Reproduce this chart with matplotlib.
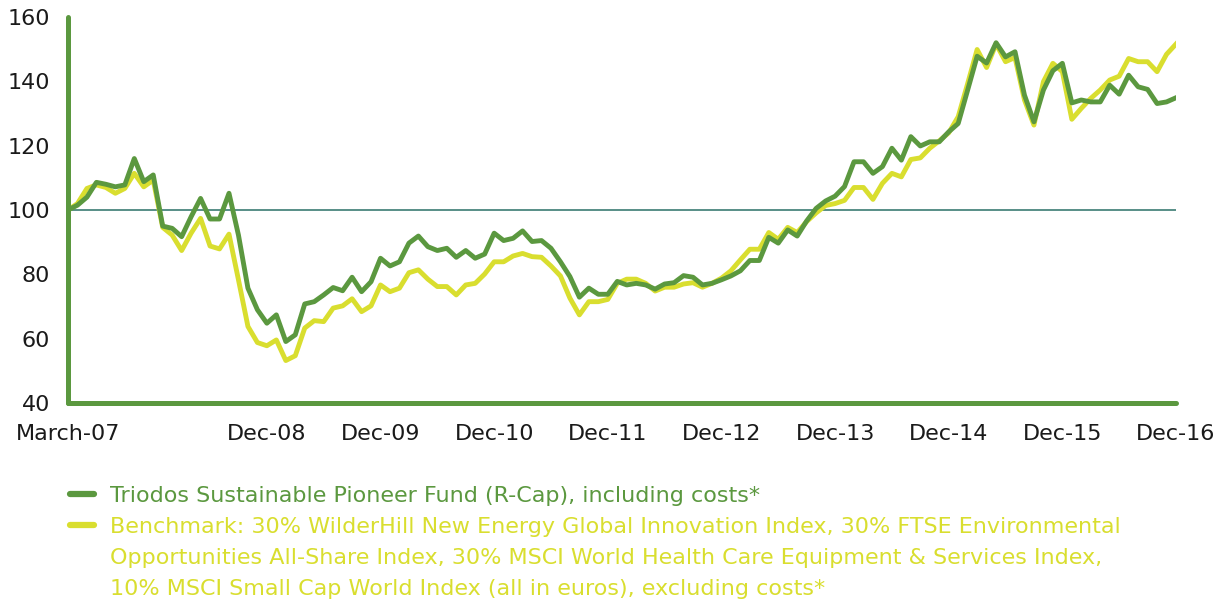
import matplotlib
matplotlib.use('Agg')
import matplotlib.pyplot as plt
from matplotlib.lines import Line2D
import numpy as np

# monthly index values, March 2007 .. December 2016
fund = [100, 101.5, 104, 108.6, 108, 107.2, 107.8, 116, 108.8, 110.9,
        95, 94.3, 91.7, 97.9, 103.6, 97.2, 97.2, 105.2, 92.2, 75.7,
        69, 64.8, 67.4, 59.1, 61.2, 70.8, 71.5, 73.6, 75.9, 74.9,
        79.1, 74.6, 77.7, 85, 82.6, 83.9, 89.7, 91.9, 88.6, 87.4,
        88.1, 85.3, 87.4, 85, 86.3, 92.8, 90.5, 91.2, 93.5, 90.2,
        90.5, 88.1, 83.9, 79.3, 72.9, 75.7, 73.8, 73.8, 77.8, 76.7,
        77.2, 76.7, 75.4, 77, 77.4, 79.6, 79.1, 76.7, 77.2, 78.3,
        79.5, 81.1, 84.3, 84.3, 91.5, 89.7, 93.8, 91.9, 96.6, 100.5,
        102.8, 104.3, 107.3, 115, 115, 111.4, 113.5, 119.2, 115.5, 122.8,
        119.9, 121.2, 121.2, 124.3, 126.9, 137.3, 147.8, 145.7, 152, 147.6,
        149.2, 135.7, 127.4, 137.3, 143.3, 145.6, 133.3, 134.2, 133.6, 133.6,
        138.8, 136, 141.9, 138.3, 137.5, 133.1, 133.6, 134.9]

benchmark = [100, 102, 106.7, 107.8, 107, 105.2, 106.7, 111.4, 107.2, 109.3,
             94.6, 92.2, 87.4, 92.8, 97.4, 88.8, 87.9, 92.5, 78.3, 63.8,
             58.8, 57.8, 59.6, 53.2, 54.7, 63.3, 65.6, 65.3, 69.5, 70.2,
             72.4, 68.4, 70.2, 76.7, 74.6, 75.7, 80.5, 81.4, 78.5, 76.2,
             76.2, 73.6, 76.7, 77.2, 80.1, 83.9, 83.9, 85.7, 86.5, 85.5,
             85.3, 82.6, 79.5, 72.6, 67.4, 71.5, 71.5, 72.2, 77.2, 78.5,
             78.5, 77.2, 74.8, 76, 76, 77, 77.4, 76, 77.2, 78.8,
             81.1, 84.5, 87.8, 87.8, 93, 90.9, 94.6, 93, 96.4, 99.1,
             101.4, 102, 103, 107, 107, 103.3, 108.3, 111.4, 110.3, 115.7,
             116.2, 119.2, 121.5, 124, 129, 139.3, 149.9, 144.3, 151.6, 146.1,
             147.4, 134.2, 126.4, 139.9, 145.6, 143, 128.2, 131.6, 134.7, 137.3,
             140.4, 141.6, 147.1, 146.1, 146.1, 143, 148.4, 151.6]

tick_pos = [0, 21, 33, 45, 57, 69, 81, 93, 105, 117]
tick_labels = ['March-07', 'Dec-08', 'Dec-09', 'Dec-10', 'Dec-11',
               'Dec-12', 'Dec-13', 'Dec-14', 'Dec-15', 'Dec-16']

fund_label = ['Triodos Sustainable Pioneer Fund (R-Cap), including costs*']
bench_label = ['Benchmark: 30% WilderHill New Energy Global Innovation Index, 30% FTSE Environmental',
               'Opportunities All-Share Index, 30% MSCI World Health Care Equipment & Services Index,',
               '10% MSCI Small Cap World Index (all in euros), excluding costs*']

dark_green = '#5b983f'
yellow = '#d9de2f'
teal = '#3b7b73'

fig = plt.figure(figsize=(12.25, 6.04), dpi=100)
ax = fig.add_axes([68 / 1225, 1 - 403 / 604, (1176 - 68) / 1225, (403 - 17) / 604])

x = np.arange(len(fund))
ax.axhline(100, color=teal, lw=1.2, zorder=1)
ax.plot(x, benchmark, color=yellow, lw=3.5, zorder=2)
ax.plot(x, fund, color=dark_green, lw=3.5, zorder=3)

ax.set_xlim(0, 117)
ax.set_ylim(40, 160)
ax.set_yticks([40, 60, 80, 100, 120, 140, 160])
ax.set_xticks(tick_pos)
ax.set_xticklabels(tick_labels)
ax.tick_params(length=0, labelsize=16, colors='#1a1a1a')
ax.tick_params(axis='x', pad=15)
ax.tick_params(axis='y', pad=13)

for side in ['top', 'right']:
    ax.spines[side].set_visible(False)
for side in ['left', 'bottom']:
    ax.spines[side].set_color(dark_green)
    ax.spines[side].set_linewidth(3.6)
    ax.spines[side].set_capstyle('round')

# legend under the chart, one text per printed line
for y_px, color in [(494, dark_green), (525, yellow)]:
    y = 1 - y_px / 604
    fig.add_artist(Line2D([70 / 1225, 94 / 1225], [y, y], color=color, lw=4.5,
                          solid_capstyle='round', transform=fig.transFigure))

rows = [(fund_label, dark_green, 494), (bench_label, yellow, 525)]
for lines, color, y0 in rows:
    for k, line in enumerate(lines):
        fig.text(110 / 1225, 1 - (y0 + 31 * k) / 604, line, color=color,
                 fontsize=16, va='center_baseline')

fig.savefig('out.png', dpi=100)
